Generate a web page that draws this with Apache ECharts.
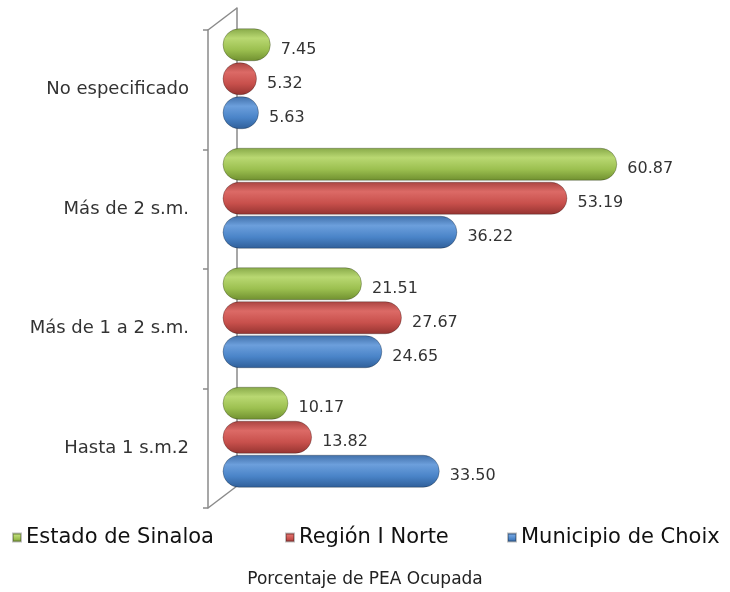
<!DOCTYPE html>
<html>
<head>
<meta charset="utf-8">
<script src="https://cdn.jsdelivr.net/npm/echarts@6/dist/echarts.min.js"></script>
<style>
  html, body { margin: 0; padding: 0; background: #fff; }
  #main { width: 730px; height: 592px; }
</style>
</head>
<body>
<div id="main"></div>
<script>
// categories bottom -> top
var categories = ['Hasta 1 s.m.2', 'Más de 1 a 2 s.m.', 'Más de 2 s.m.', 'No especificado'];
var estado = [10.17, 21.51, 60.87, 7.45];
var region = [13.82, 27.67, 53.19, 5.32];
var choix = [33.50, 24.65, 36.22, 5.63];

var font = 'DejaVu Sans';
var axisGray = '#8a8a8a';

// fake 3d frame: front plane, bar plane, back wall
var front = { left: 208, top: 30, bottom: 84 };
var depth = { dx: 29, dy: 22 };

function cyl(dark, light, base, edge) {
    return {
        type: 'linear', x: 0, y: 0, x2: 0, y2: 1,
        colorStops: [
            { offset: 0, color: dark },
            { offset: 0.3, color: light },
            { offset: 0.65, color: base },
            { offset: 1, color: edge }
        ]
    };
}
var green = cyl('#86a847', '#b9d872', '#9cc050', '#6f8f2f');
var red = cyl('#a84340', '#dc6a66', '#c8504c', '#943330');
var blue = cyl('#3f6ea8', '#6c9fdc', '#4a84c8', '#2f5e98');

function barSeries(name, data, color) {
    return {
        name: name,
        type: 'bar',
        xAxisIndex: 1,
        yAxisIndex: 1,
        data: data,
        barWidth: 33,
        barGap: '3%',
        itemStyle: {
            color: color,
            borderRadius: 16,
            borderColor: 'rgba(0,0,0,0.25)',
            borderWidth: 1
        },
        label: {
            show: true,
            position: 'right',
            distance: 10,
            offset: [0, 5],
            fontFamily: font,
            fontSize: 16,
            color: '#333',
            formatter: function (p) { return p.value.toFixed(2); }
        },
        z: 3
    };
}

var myChart = echarts.init(document.getElementById('main'));
myChart.setOption({
    backgroundColor: '#fff',
    animation: false,
    title: {
        text: 'Porcentaje de PEA Ocupada',
        left: 'center',
        top: 566,
        textStyle: { fontFamily: font, fontSize: 17, fontWeight: 'normal', color: '#222' }
    },
    legend: [
        { data: ['Estado de Sinaloa'], left: 7, top: 522 },
        { data: ['Región I Norte'], left: 280, top: 522 },
        { data: ['Municipio de Choix'], left: 502, top: 522 }
    ].map(function (l) {
        l.icon = 'rect';
        l.itemWidth = 8;
        l.itemHeight = 8;
        l.textStyle = { fontFamily: font, fontSize: 21, color: '#111' };
        return l;
    }),
    grid: [
        // front plane (labels + ticks)
        { left: front.left, top: front.top, bottom: front.bottom, width: 450 },
        // bars in the middle of the depth
        { left: front.left + depth.dx / 2, top: front.top - depth.dy / 2, bottom: front.bottom + depth.dy / 2, width: 454 },
        // back wall
        { left: front.left + depth.dx, top: front.top - depth.dy, bottom: front.bottom + depth.dy, width: 450 }
    ],
    xAxis: [
        { gridIndex: 0, type: 'value', show: false },
        { gridIndex: 1, type: 'value', min: 0, max: 70, show: false },
        { gridIndex: 2, type: 'value', show: false }
    ],
    yAxis: [
        {
            gridIndex: 0,
            type: 'category',
            data: categories,
            axisLine: { lineStyle: { color: axisGray, width: 1.5 } },
            axisTick: { show: true, length: 5, lineStyle: { color: axisGray, width: 1.5 } },
            axisLabel: { fontFamily: font, fontSize: 18, color: '#333', margin: 19 },
            z: 1
        },
        { gridIndex: 1, type: 'category', data: categories, show: false },
        {
            gridIndex: 2,
            type: 'category',
            data: categories,
            axisLine: { lineStyle: { color: axisGray, width: 1.5 } },
            axisTick: { show: false },
            axisLabel: { show: false },
            z: 0
        }
    ],
    graphic: [
        {
            type: 'line',
            shape: { x1: front.left, y1: front.top, x2: front.left + depth.dx, y2: front.top - depth.dy },
            style: { stroke: axisGray, lineWidth: 1.5 },
            z: 0
        },
        {
            type: 'line',
            shape: { x1: front.left, y1: 592 - front.bottom, x2: front.left + depth.dx, y2: 592 - front.bottom - depth.dy },
            style: { stroke: axisGray, lineWidth: 1.5 },
            z: 0
        }
    ],
    series: [
        barSeries('Estado de Sinaloa', estado, green),
        barSeries('Región I Norte', region, red),
        barSeries('Municipio de Choix', choix, blue)
    ]
});
</script>
</body>
</html>
